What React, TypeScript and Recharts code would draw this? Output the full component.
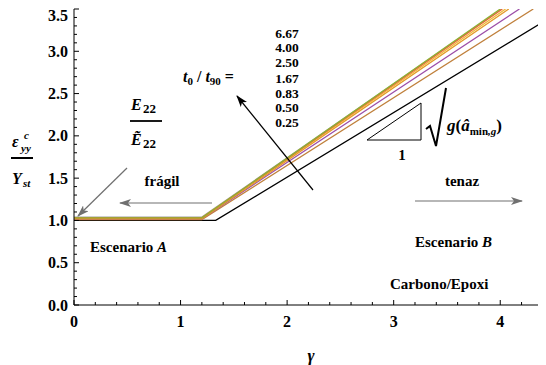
import React from "react";
import { LineChart, Line, XAxis, YAxis } from "recharts";

// ---- data ----
const xTicks = [0, 0.2, 0.4, 0.6, 0.8, 1, 1.2, 1.4, 1.6, 1.8, 2, 2.2, 2.4, 2.6, 2.8, 3, 3.2, 3.4, 3.6, 3.8, 4, 4.2, 4.4];
const yTicks = [0, 0.1, 0.2, 0.3, 0.4, 0.5, 0.6, 0.7, 0.8, 0.9, 1, 1.1, 1.2, 1.3, 1.4, 1.5, 1.6, 1.7, 1.8, 1.9, 2, 2.1, 2.2, 2.3, 2.4, 2.5, 2.6, 2.7, 2.8, 2.9, 3, 3.1, 3.2, 3.3, 3.4, 3.5];
const xMajor = [0, 1, 2, 3, 4];
const yMajor = [0, 0.5, 1, 1.5, 2, 2.5, 3, 3.5];
const ratioLabels = ["6.67", "4.00", "2.50", "1.67", "0.83", "0.50", "0.25"];

// each curve: gamma values and normalized strain values
const blackX = [0, 1.33, 4.42];
const blackY = [1.0, 1.0, 3.36];
const brownX = [0, 1.2, 4.31];
const brownY = [1.01, 1.01, 3.5];
const purpleX = [0, 1.2, 4.18];
const purpleY = [1.02, 1.02, 3.5];
const grayX = [0, 1.2, 4.01];
const grayY = [1.04, 1.04, 3.5];
const orangeX = [0, 1.2, 4.08];
const orangeY = [1.02, 1.02, 3.5];
const yellowX = [0, 1.2, 4.05];
const yellowY = [1.03, 1.03, 3.5];
const redX = [0, 1.2, 4.02];
const redY = [1.03, 1.03, 3.5];
const greenX = [0, 1.2, 4.0];
const greenY = [1.03, 1.03, 3.5];

const toRows = (xs: number[], ys: number[]) => xs.map((x, i) => ({ x, y: ys[i] }));

const curves = [
  { name: "ref", color: "#000000", rows: toRows(blackX, blackY) },
  { name: "0.25", color: "#c0803c", rows: toRows(brownX, brownY) },
  { name: "0.50", color: "#9c4fa8", rows: toRows(purpleX, purpleY) },
  { name: "0.83", color: "#a0a0a0", rows: toRows(grayX, grayY) },
  { name: "1.67", color: "#e39a2a", rows: toRows(orangeX, orangeY) },
  { name: "2.50", color: "#f0b838", rows: toRows(yellowX, yellowY) },
  { name: "4.00", color: "#eb6235", rows: toRows(redX, redY) },
  { name: "6.67", color: "#8fb032", rows: toRows(greenX, greenY) },
];

const FONT = "Liberation Serif, DejaVu Serif, Times New Roman, Times, serif";
const isMajor = (v: number, list: number[]) => list.some((m) => Math.abs(m - v) < 1e-6);

const BottomTick = (props: any) => {
  const { x, y, payload } = props;
  const major = isMajor(payload.value, xMajor);
  return (
    <g>
      <line x1={x} y1={y} x2={x} y2={y - (major ? 5 : 3)} stroke="#000" strokeWidth={1} />
      {major && (
        <text x={x} y={y + 22} textAnchor="middle" style={{ fontFamily: FONT, fontWeight: "bold", fontSize: 16 }} fill="#000">
          {payload.value}
        </text>
      )}
    </g>
  );
};

const TopTick = (props: any) => {
  const { x, y, payload } = props;
  const major = isMajor(payload.value, xMajor);
  return <line x1={x} y1={y} x2={x} y2={y + (major ? 5 : 3)} stroke="#000" strokeWidth={1} />;
};

const LeftTick = (props: any) => {
  const { x, y, payload } = props;
  const major = isMajor(payload.value, yMajor);
  const ly = Math.max(y, 7.5);
  return (
    <g>
      <line x1={x} y1={y} x2={x + (major ? 5 : 3)} y2={y} stroke="#000" strokeWidth={1} />
      {major && (
        <text x={x - 6} y={ly + 5.5} textAnchor="end" style={{ fontFamily: FONT, fontWeight: "bold", fontSize: 16 }} fill="#000">
          {Number(payload.value).toFixed(1)}
        </text>
      )}
    </g>
  );
};

const Arrow = ({ x1, y1, x2, y2, color, id }: any) => (
  <line x1={x1} y1={y1} x2={x2} y2={y2} stroke={color} strokeWidth={1.2} markerEnd={`url(#${id})`} />
);

export default function App() {
  const W = 538;
  const H = 357;
  const t = { fontFamily: FONT, fontWeight: "bold" as const };
  return (
    <div style={{ position: "relative", width: W, height: H, fontFamily: FONT }}>
      <LineChart width={W} height={H} margin={{ top: 1, right: 1, left: 0, bottom: 0 }}>
        <XAxis
          xAxisId="top"
          orientation="top"
          type="number"
          dataKey="x"
          domain={[0, 4.42]}
          allowDataOverflow
          ticks={xTicks}
          interval={0}
          height={0}
          tickSize={0}
          tickMargin={0}
          tickLine={false}
          tick={<TopTick />}
          axisLine={{ stroke: "#000", strokeWidth: 1 }}
        />
        <XAxis
          type="number"
          dataKey="x"
          domain={[0, 4.42]}
          allowDataOverflow
          ticks={xTicks}
          interval={0}
          height={60}
          tickSize={0}
          tickMargin={0}
          tickLine={false}
          tick={<BottomTick />}
          axisLine={{ stroke: "#000", strokeWidth: 1 }}
        />
        <YAxis
          type="number"
          domain={[0, 3.5]}
          allowDataOverflow
          ticks={yTicks}
          interval={0}
          width={66}
          tickSize={0}
          tickMargin={0}
          tickLine={false}
          tick={<LeftTick />}
          axisLine={{ stroke: "#000", strokeWidth: 1 }}
        />
        {curves.map((c) => (
          <Line
            key={c.name}
            data={c.rows}
            dataKey="y"
            type="linear"
            stroke={c.color}
            strokeWidth={1.3}
            dot={false}
            activeDot={false}
            isAnimationActive={false}
          />
        ))}
      </LineChart>
      <svg
        width={W}
        height={H}
        viewBox="8 8 538 357"
        style={{ position: "absolute", left: 0, top: 0, pointerEvents: "none" }}
      >
        <defs>
          <marker id="gh" viewBox="0 0 12 8" refX="11" refY="4" markerWidth="12" markerHeight="8" markerUnits="userSpaceOnUse" orient="auto">
            <path d="M0,0 L12,4 L0,8 L3,4 Z" fill="#707070" />
          </marker>
          <marker id="bh" viewBox="0 0 12 8" refX="11" refY="4" markerWidth="12" markerHeight="8" markerUnits="userSpaceOnUse" orient="auto">
            <path d="M0,0 L12,4 L0,8 L3,4 Z" fill="#000" />
          </marker>
        </defs>
        <g style={t}>
          {/* y-axis label */}
          <text x={12} y={147} fontSize={16} fontStyle="italic">ε</text>
          <text x={24} y={139} fontSize={11} fontStyle="italic">c</text>
          <text x={21} y={152} fontSize={11} fontStyle="italic">yy</text>
          <line x1={11} y1={158} x2={33} y2={158} stroke="#000" strokeWidth={2} />
          <text x={12} y={184} fontSize={16} fontStyle="italic">Y</text>
          <text x={23} y={187} fontSize={11} fontStyle="italic">st</text>

          {/* x-axis label */}
          <text x={311} y={361} fontSize={17} fontStyle="italic" textAnchor="middle">γ</text>

          {/* E22 / E~22 */}
          <text x={131} y={110} fontSize={16} fontStyle="italic">E</text>
          <text x={143} y={113} fontSize={13}>22</text>
          <line x1={130} y1={121} x2={162} y2={121} stroke="#000" strokeWidth={1.8} />
          <text x={131} y={145} fontSize={16} fontStyle="italic">Ẽ</text>
          <text x={143} y={148} fontSize={13}>22</text>
          <Arrow x1={127} y1={168} x2={78} y2={216} color="#707070" id="gh" />

          {/* fragil / tenaz */}
          <text x={162} y={186} fontSize={15} textAnchor="middle">frágil</text>
          <Arrow x1={212} y1={203} x2={120} y2={203} color="#707070" id="gh" />
          <text x={462} y={186} fontSize={15} textAnchor="middle">tenaz</text>
          <Arrow x1={415} y1={201} x2={522} y2={201} color="#707070" id="gh" />

          {/* t0/t90 legend */}
          <text x={183} y={82} fontSize={16}>
            <tspan fontStyle="italic">t</tspan>
            <tspan fontSize={11} dy={3}>0</tspan>
            <tspan dy={-3}> / </tspan>
            <tspan fontStyle="italic">t</tspan>
            <tspan fontSize={11} dy={3}>90</tspan>
            <tspan dy={-3}> =</tspan>
          </text>
          {ratioLabels.map((r, i) => (
            <text key={r} x={287} y={[38, 52, 67, 83, 98, 112, 127][i]} fontSize={13.5} textAnchor="middle">
              {r}
            </text>
          ))}
          <Arrow x1={313} y1={190} x2={237} y2={96} color="#000" id="bh" />

          {/* scenarios */}
          <text x={90} y={252} fontSize={15}>
            Escenario <tspan fontStyle="italic">A</tspan>
          </text>
          <text x={415} y={247} fontSize={15}>
            Escenario <tspan fontStyle="italic">B</tspan>
          </text>
          <text x={390} y={289} fontSize={15}>Carbono/Epoxi</text>

          {/* slope triangle */}
          <polygon points="367,140 421,140 421,103" fill="none" stroke="#000" strokeWidth={1} />
          <text x={402} y={160} fontSize={15} textAnchor="middle">1</text>
          <path d="M426,129 L430,126 L436,146 L446,88" fill="none" stroke="#000" strokeWidth={2} />
          <text x={447} y={131} fontSize={17}>
            <tspan fontStyle="italic">g</tspan>
            <tspan>(</tspan>
            <tspan fontStyle="italic">â</tspan>
            <tspan fontSize={11} dy={4}>min</tspan>
            <tspan fontSize={11} fontStyle="italic">,g</tspan>
            <tspan dy={-4}>)</tspan>
          </text>
        </g>
      </svg>
    </div>
  );
}
